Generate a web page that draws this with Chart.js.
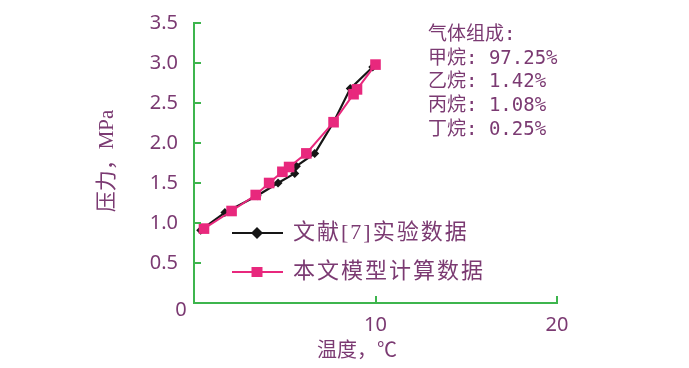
<!DOCTYPE html>
<html>
<head>
<meta charset="utf-8">
<title>压力-温度</title>
<script src="https://cdn.jsdelivr.net/npm/chart.js"></script>
<style>
  html, body { margin: 0; padding: 0; background: #fff; }
  canvas { display: block; }
</style>
</head>
<body>
<canvas id="grafico" width="689" height="368"></canvas>
<script>
// datos
const tempExp = [0.37, 1.70, 3.48, 4.63, 5.55, 5.64, 6.65, 7.69, 8.61, 9.85];
const presExp = [0.91, 1.13, 1.34, 1.50, 1.62, 1.71, 1.87, 2.26, 2.68, 2.95];

const tempModelo = [0.55, 2.07, 3.40, 4.14, 4.87, 5.24, 6.19, 7.69, 8.79, 8.98, 10.0];
const presModelo = [0.93, 1.15, 1.35, 1.50, 1.64, 1.70, 1.87, 2.26, 2.61, 2.67, 2.98];

const etiquetas = ['文献[7]实验数据', '本文模型计算数据'];
const composicion = ['气体组成:', '甲烷: 97.25%', '乙烷: 1.42%', '丙烷: 1.08%', '丁烷: 0.25%'];
const tituloX = '温度，℃';
const tituloY = '压力，MPa';

const ticksX = [0, 10, 20];
const ticksY = [0, 0.5, 1.0, 1.5, 2.0, 2.5, 3.0, 3.5];

const morado = '#7b3a72';
const verde = '#3db54d';
const rosa = '#e8287d';
const negro = '#161616';

const puntos = (xs, ys) => xs.map((x, i) => ({ x: x, y: ys[i] }));

// dibuja ticks interiores, leyenda, títulos y texto de composición
const extras = {
    id: 'extras',
    afterDraw(chart) {
        const ctx = chart.ctx;
        const area = chart.chartArea;
        const sx = chart.scales.x;
        const sy = chart.scales.y;
        ctx.save();

        // ticks hacia dentro
        ctx.strokeStyle = verde;
        ctx.lineWidth = 2;
        ticksY.slice(1).forEach(v => {
            const y = Math.round(sy.getPixelForValue(v));
            ctx.beginPath();
            ctx.moveTo(area.left, y);
            ctx.lineTo(area.left + 7, y);
            ctx.stroke();
        });
        ticksX.slice(1).forEach(v => {
            const x = Math.round(sx.getPixelForValue(v));
            ctx.beginPath();
            ctx.moveTo(x, area.bottom);
            ctx.lineTo(x, area.bottom - 7);
            ctx.stroke();
        });

        // origen "0"
        ctx.fillStyle = morado;
        ctx.font = '20px "Noto Sans"';
        ctx.textAlign = 'center';
        ctx.textBaseline = 'middle';
        ctx.fillText('0', sx.getPixelForValue(0) - 13, sy.getPixelForValue(0) + 7);

        // títulos de ejes
        ctx.font = '20px "Liberation Serif", "Noto Sans CJK SC"';
        ctx.fillText(tituloX, area.left + 163, area.bottom + 49);
        ctx.save();
        ctx.translate(area.left - 87, area.top + 138);
        ctx.rotate(-Math.PI / 2);
        ctx.font = '21px "Liberation Serif", "Noto Sans CJK SC"';
        ctx.fillText(tituloY, 0, 0);
        ctx.restore();

        // leyenda
        const filas = [
            { y: area.top + 210, color: negro, estilo: 'diamante' },
            { y: area.top + 249, color: rosa, estilo: 'cuadro' }
        ];
        filas.forEach((f, i) => {
            const x0 = area.left + 38, x1 = area.left + 89, xm = area.left + 63;
            ctx.strokeStyle = f.color;
            ctx.lineWidth = 2;
            ctx.beginPath();
            ctx.moveTo(x0, f.y);
            ctx.lineTo(x1, f.y);
            ctx.stroke();
            ctx.fillStyle = f.color;
            ctx.beginPath();
            if (f.estilo === 'diamante') {
                ctx.moveTo(xm - 6, f.y);
                ctx.lineTo(xm, f.y - 6);
                ctx.lineTo(xm + 6, f.y);
                ctx.lineTo(xm, f.y + 6);
                ctx.closePath();
            } else {
                ctx.rect(xm - 5.5, f.y - 5, 11, 10);
            }
            ctx.fill();
            ctx.fillStyle = morado;
            ctx.font = '22px "Liberation Serif", "Noto Sans CJK SC"';
            ctx.letterSpacing = '2px';
            ctx.textAlign = 'left';
            ctx.fillText(etiquetas[i], area.left + 99, f.y);
            ctx.letterSpacing = '0px';
        });

        // composición del gas
        ctx.font = '19px "DejaVu Sans Mono", "Noto Sans CJK SC"';
        ctx.textAlign = 'left';
        composicion.forEach((t, i) => {
            ctx.fillText(t, area.left + 234, area.top + 12 + i * 23.7);
        });

        ctx.restore();
    }
};

const chart = new Chart(document.getElementById('grafico').getContext('2d'), {
    type: 'scatter',
    data: {
        datasets: [
            {
                label: etiquetas[1],
                data: puntos(tempModelo, presModelo),
                showLine: true,
                borderColor: rosa,
                backgroundColor: rosa,
                borderWidth: 2,
                pointStyle: 'rect',
                pointRadius: 7.5,
                pointBorderWidth: 0,
                tension: 0,
                order: 0
            },
            {
                label: etiquetas[0],
                data: puntos(tempExp, presExp),
                showLine: true,
                borderColor: negro,
                backgroundColor: negro,
                borderWidth: 2.2,
                pointStyle: 'rectRot',
                pointRadius: 4.5,
                pointBorderWidth: 0,
                tension: 0,
                order: 1
            }
        ]
    },
    options: {
        responsive: false,
        animation: false,
        layout: { padding: { left: 0, top: 23, right: 132, bottom: 0 } },
        plugins: {
            legend: { display: false },
            tooltip: { enabled: false }
        },
        scales: {
            x: {
                type: 'linear',
                min: 0,
                max: 20,
                afterFit: s => { s.height = 65; s.paddingLeft = 0; s.paddingRight = 0; },
                afterBuildTicks: s => { s.ticks = ticksX.map(v => ({ value: v })); },
                border: { display: true, color: verde, width: 2 },
                grid: { display: true, drawOnChartArea: false, drawTicks: false },
                ticks: {
                    padding: 10,
                    color: morado,
                    font: { family: 'Noto Sans', size: 20 },
                    callback: v => v === 0 ? '' : v
                }
            },
            y: {
                type: 'linear',
                min: 0,
                max: 3.5,
                afterFit: s => { s.width = 194; s.paddingTop = 0; s.paddingBottom = 0; },
                afterBuildTicks: s => { s.ticks = ticksY.map(v => ({ value: v })); },
                border: { display: true, color: verde, width: 2 },
                grid: { display: true, drawOnChartArea: false, drawTicks: false },
                ticks: {
                    padding: 16,
                    color: morado,
                    font: { family: 'Noto Sans', size: 20 },
                    callback: v => v === 0 ? '' : v.toFixed(1)
                }
            }
        }
    },
    plugins: [extras]
});
</script>
</body>
</html>
